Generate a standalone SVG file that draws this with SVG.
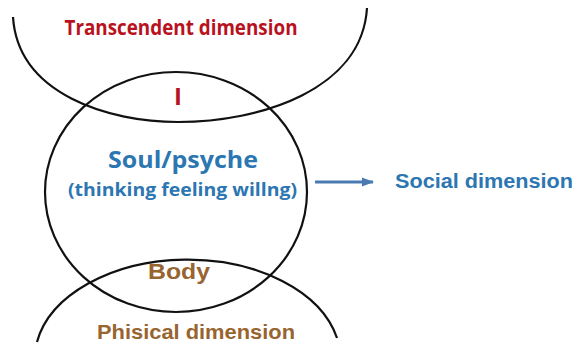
<svg xmlns="http://www.w3.org/2000/svg" width="576" height="353" viewBox="0 0 576 353">
<style>
.ln{fill:none;stroke:#111;stroke-width:2.2}
.t{font-family:"Open Sans","Liberation Sans",sans-serif;font-weight:bold;text-anchor:middle}
.a{font-family:"Liberation Sans",Arial,sans-serif;font-weight:bold;text-anchor:middle}
.red{fill:#B8121E}
.blue{fill:#2C76B2}
.brown{fill:#98642F}
</style>
<defs>
<marker id="ah" markerWidth="12" markerHeight="12" refX="11" refY="6" orient="auto" markerUnits="userSpaceOnUse">
<path d="M0,1.5 L12,6 L0,10.5 Z" fill="#4A7BB0"/>
</marker>
</defs>
<rect width="576" height="353" fill="#fff"/>
<g id="transcendent">
<path class="ln" d="M13,17 C18,95 110,122 178,122 C260,122 362,90 367,8"/>
<text class="t red" x="181" y="35" font-size="22" textLength="233" lengthAdjust="spacingAndGlyphs">Transcendent dimension</text>
</g>
<g id="soul">
<ellipse class="ln" cx="176" cy="192" rx="131" ry="120"/>
<text class="t red" x="178" y="105" font-size="24">I</text>
<text class="t blue" x="183" y="168" font-size="22.5" textLength="150" lengthAdjust="spacingAndGlyphs">Soul/psyche</text>
<text class="t blue" x="182.5" y="196" font-size="18" textLength="229" lengthAdjust="spacingAndGlyphs">(thinking feeling willng)</text>
</g>
<g id="physical">
<path class="ln" d="M37,342 A153,100 0 0 1 337,338"/>
<text class="a brown" x="179" y="279" font-size="22" textLength="62" lengthAdjust="spacingAndGlyphs">Body</text>
<text class="a brown" x="196" y="339" font-size="21" textLength="198" lengthAdjust="spacingAndGlyphs">Phisical dimension</text>
</g>
<g id="social">
<text class="a blue" x="484" y="188" font-size="20.5" textLength="178" lengthAdjust="spacingAndGlyphs">Social dimension</text>
</g>
<g id="connectors">
<line x1="315" y1="182" x2="373" y2="182" stroke="#4A7BB0" stroke-width="3" marker-end="url(#ah)"/>
</g>
</svg>
